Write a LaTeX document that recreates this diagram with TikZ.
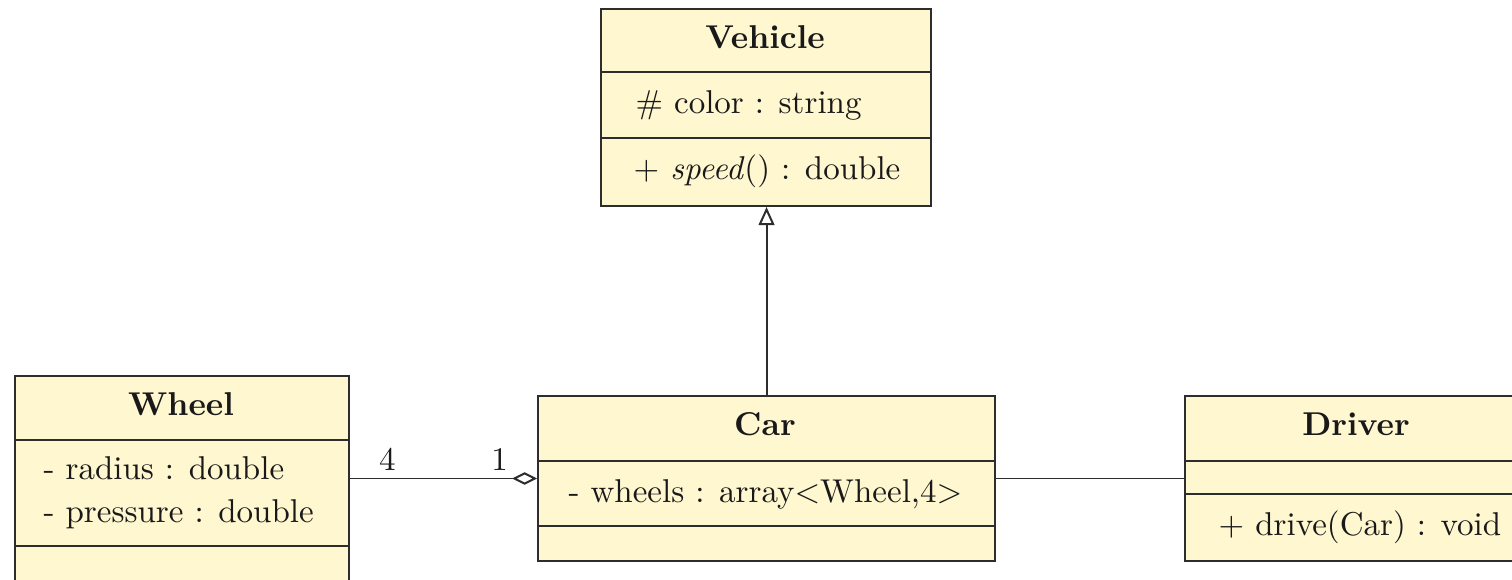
\documentclass[tikz,border=0pt]{standalone}
\usetikzlibrary{arrows.meta}
\definecolor{umlfill}{RGB}{255,247,208}
\definecolor{umlline}{RGB}{45,45,45}
\definecolor{umltext}{RGB}{25,25,25}
\begin{document}
\begin{tikzpicture}[x=0.303pt,y=-0.303pt,
  classbox/.style={draw=umlline, fill=umlfill, line width=0.6pt, inner sep=0pt, anchor=north west},
  divider/.style={draw=umlline, line width=0.6pt},
  ctitle/.style={font=\bfseries, text=umltext, inner sep=0pt, text height=7pt, text depth=2pt},
  member/.style={text=umltext, inner sep=0pt, anchor=west, text height=7pt, text depth=2pt},
  conn/.style={draw=umlline, line width=0.6pt},
  mult/.style={text=umltext, inner sep=2pt, above}]
\useasboundingbox (0,0) rectangle (1512,579);
\fill[white] (0,0) rectangle (1512,579);
\clip (0,0) rectangle (1512,579);

% Vehicle
\node[classbox, minimum width=100pt, minimum height=59.7pt] (vehicle) at (600,8) {};
\draw[divider] (vehicle.west |- 0,72) -- (vehicle.east |- 0,72);
\draw[divider] (vehicle.west |- 0,138) -- (vehicle.east |- 0,138);
\node[ctitle] (vehicletitle) at (765,40) {Vehicle};
\node[member] (vehiclecolor) at (635,105) {\# color : string};
\node[member] (vehiclespeed) at (633,171) {$+$ \textit{speed}() : double};

% Wheel
\node[classbox, minimum width=101.2pt, minimum height=62.4pt] (wheel) at (14,375) {};
\draw[divider] (wheel.west |- 0,440) -- (wheel.east |- 0,440);
\draw[divider] (wheel.west |- 0,546) -- (wheel.east |- 0,546);
\node[ctitle] (wheeltitle) at (181,407) {Wheel};
\node[member] (wheelradius) at (43,471) {- radius : double};
\node[member] (wheelpressure) at (43,514) {- pressure : double};

% Car
\node[classbox, minimum width=138.5pt, minimum height=50pt] (car) at (537,395) {};
\draw[divider] (car.west |- 0,461) -- (car.east |- 0,461);
\draw[divider] (car.west |- 0,526) -- (car.east |- 0,526);
\node[ctitle] (cartitle) at (765,427) {Car};
\node[member] (carwheels) at (568,494) {- wheels : array$<$Wheel,4$>$};

% Driver
\node[classbox, minimum width=104.2pt, minimum height=50pt] (driver) at (1184,395) {};
\draw[divider] (driver.west |- 0,461) -- (driver.east |- 0,461);
\draw[divider] (driver.west |- 0,494) -- (driver.east |- 0,494);
\node[ctitle] (drivertitle) at (1356,427) {Driver};
\node[member] (driverdrive) at (1218,527) {$+$ drive(Car) : void};

% Connectors
\draw[conn, -{Triangle[open, length=5.5pt, width=4.8pt]}] (car.north) -- (car.north |- vehicle.south);
\draw[conn, -{Diamond[open, length=7.5pt, width=3.8pt]}] (car.west -| wheel.east) --
  node[mult, pos=0.2] (mfour) {4}
  node[mult, pos=0.8] (mone) {1} (car.west);
\draw[conn] (car.east) -- (car.east -| driver.west);
\end{tikzpicture}
\end{document}
